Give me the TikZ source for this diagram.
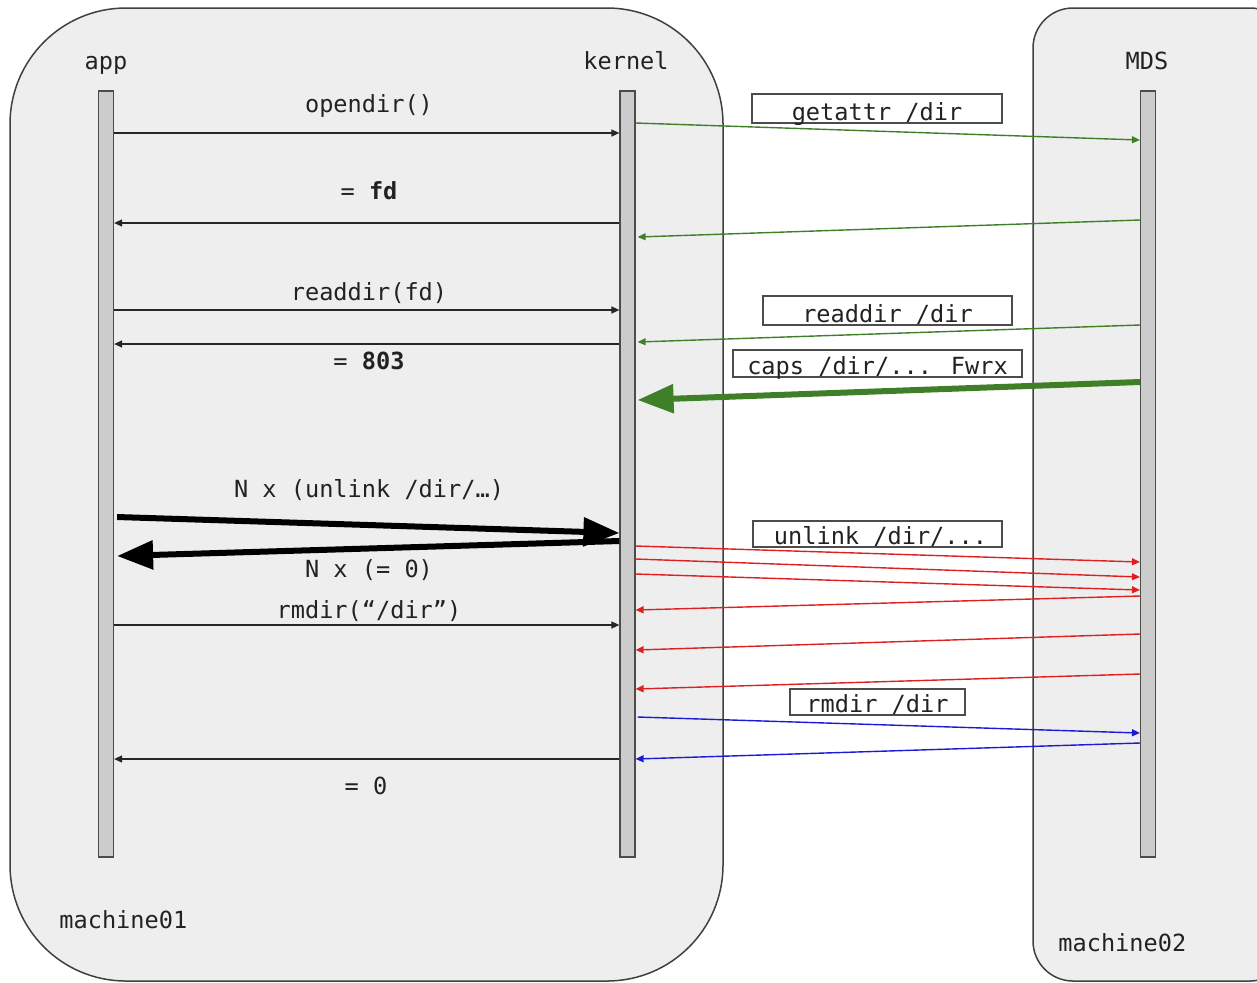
\documentclass[tikz,border=0pt]{standalone}
\usepackage{fontspec}
\setmainfont{DejaVu Sans Mono}
\usetikzlibrary{arrows.meta}
\definecolor{grn}{HTML}{3F7F28}
\definecolor{rd}{HTML}{E02020}
\definecolor{bl}{HTML}{1A1AD8}
\definecolor{machfill}{HTML}{EEEEEE}
\definecolor{barfill}{HTML}{CCCCCC}
\definecolor{txt}{HTML}{222222}
\begin{document}
\begin{tikzpicture}[x=0.5pt,y=-0.5pt,
  font=\fontsize{11.8}{14}\selectfont, text=txt,
  machine/.style={draw=black!75, fill=machfill, line width=0.75pt},
  bar/.style={draw=black!70, fill=barfill, line width=0.6pt, minimum width=7.5pt, minimum height=383pt, inner sep=0pt},
  lbl/.style={anchor=base, inner sep=0pt},
  msg/.style={draw=black!85, line width=0.7pt, -{Triangle[length=4pt,width=3.5pt]}},
  gmsg/.style={msg, draw=grn, color=grn},
  rmsg/.style={msg, draw=rd, color=rd},
  bmsg/.style={msg, draw=bl, color=bl},
  bigmsg/.style={line width=3pt, -{Triangle[length=18pt,width=14pt]}},
  labbox/.style={draw=black!70, fill=white, line width=0.6pt, inner sep=0pt, text depth=1.5pt, text height=13pt, minimum height=14.5pt}
]
\useasboundingbox (0,0) rectangle (1257,982);
\clip (0,0) rectangle (1257,982);
% machines
\draw[machine, rounded corners=58pt] (10,8) rectangle (723,981);
\draw[machine, rounded corners=20pt] (1033,8) rectangle (1290,981);
% lifelines
\node[bar] (app) at (106,474) {};
\node[bar] (kern) at (627.5,474) {};
\node[bar] (mds) at (1148,474) {};
\node[lbl] (tapp) at (106,69) {app};
\node[lbl] (tkern) at (626,69) {kernel};
\node[lbl] (tmds) at (1147,69) {MDS};
\node[anchor=base west, inner sep=0pt] (m1) at (59,928) {machine01};
\node[anchor=base west, inner sep=0pt] (m2) at (1058,951) {machine02};
% app <-> kernel
\node[lbl] (l1) at (369,112) {opendir()};
\draw[msg] (app.east |- 0,133) -- (kern.west |- 0,133);
\node[lbl] (l2) at (369,199) {= \textbf{fd}};
\draw[msg] (kern.west |- 0,223) -- (app.east |- 0,223);
\node[lbl] (l3) at (369,300) {readdir(fd)};
\draw[msg] (app.east |- 0,310) -- (kern.west |- 0,310);
\draw[msg] (kern.west |- 0,344) -- (app.east |- 0,344);
\node[lbl] (l4) at (369,369) {= \textbf{803}};
\node[lbl] (l5) at (369,497) {N x (unlink /dir/…)};
\draw[bigmsg, draw=black, color=black] ([xshift=1.5pt]app.east |- 0,517) -- (kern.west |- 0,533);
\draw[bigmsg, draw=black, color=black] (kern.west |- 0,541) -- ([xshift=1.5pt]app.east |- 0,556);
\node[lbl] (l6) at (369,577) {N x (= 0)};
\node[lbl] (l7) at (369,618) {rmdir(“/dir”)};
\draw[msg] (app.east |- 0,625) -- (kern.west |- 0,625);
\draw[msg] (kern.west |- 0,759) -- (app.east |- 0,759);
\node[lbl] (l8) at (366,794) {= 0};
% kernel <-> MDS
\node[labbox, minimum width=125pt] (b1) at (877,108.5) {getattr /dir};
\draw[gmsg] (kern.east |- 0,123) -- (mds.west |- 0,140);
\draw[gmsg] (mds.west |- 0,220) -- ([xshift=1pt]kern.east |- 0,237);
\node[labbox, minimum width=124.5pt] (b2) at (887.5,310.5) {readdir /dir};
\draw[gmsg] (mds.west |- 0,325) -- ([xshift=1pt]kern.east |- 0,342);
\node[labbox, minimum width=144.5pt, minimum height=13.5pt, text height=12pt] (b3) at (877.5,363.5) {caps /dir/... Fwrx};
\draw[bigmsg, draw=grn, color=grn] (mds.west |- 0,382) -- ([xshift=1pt]kern.east |- 0,400);
\node[labbox, minimum width=124.5pt, minimum height=13pt, text height=11.5pt] (b4) at (877.5,534) {\hspace{3pt}unlink /dir/...};
\draw[rmsg] (kern.east |- 0,546) -- (mds.west |- 0,562);
\draw[rmsg] (kern.east |- 0,559) -- (mds.west |- 0,577);
\draw[rmsg] (kern.east |- 0,574) -- (mds.west |- 0,590);
\draw[rmsg] (mds.west |- 0,596) -- (kern.east |- 0,610);
\draw[rmsg] (mds.west |- 0,634) -- (kern.east |- 0,650);
\draw[rmsg] (mds.west |- 0,674) -- (kern.east |- 0,689);
\node[labbox, minimum width=87.5pt, minimum height=13pt, text height=11.5pt] (b5) at (877.5,702) {rmdir /dir};
\draw[bmsg] ([xshift=1pt]kern.east |- 0,717) -- (mds.west |- 0,733);
\draw[bmsg] (mds.west |- 0,743) -- (kern.east |- 0,759);
\end{tikzpicture}
\end{document}
